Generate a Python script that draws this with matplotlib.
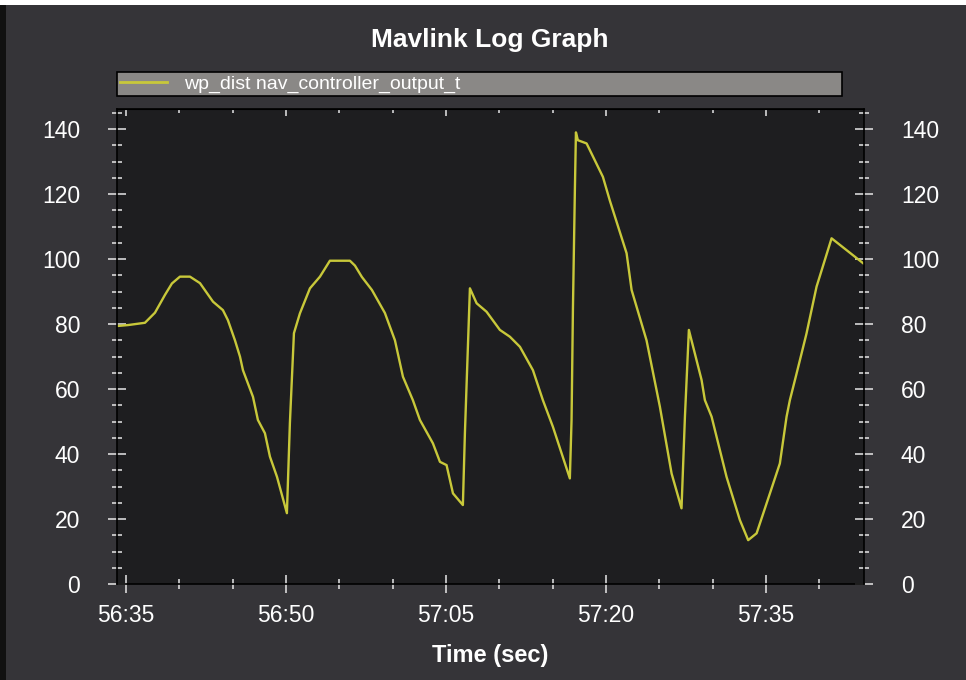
import matplotlib
matplotlib.use("Agg")
import matplotlib.pyplot as plt
from matplotlib.ticker import MultipleLocator, FixedLocator
from matplotlib.patches import Rectangle

# ---- data (seconds after 56:00) ----
time_s = [34.16, 35.2, 36.78, 37.72, 38.66, 39.31, 40.06, 41.00, 41.94, 43.16,
          44.09, 44.56, 45.22, 45.69, 45.97, 46.91, 47.37, 48.03, 48.50, 49.16,
          50.09, 50.37, 50.75, 51.31, 52.25, 53.19, 54.12, 56.00, 56.47, 57.12,
          58.06, 59.28, 60.22, 60.97, 61.90, 62.56, 63.78, 64.44, 65.06, 65.66,
          66.59, 66.78, 67.25, 67.88, 68.81, 70.06, 71.00, 71.94, 73.16, 74.09,
          75.03, 76.62, 76.78, 76.91, 77.09, 77.19, 77.37, 78.19, 79.72, 80.37,
          81.94, 82.41, 83.81, 85.06, 86.16, 87.09, 87.41, 87.78, 88.97, 89.28,
          89.91, 91.31, 92.56, 93.34, 94.13, 95.38, 96.31, 96.94, 97.25, 97.88,
          98.81, 99.75, 101.16, 104.13]
wp_dist = [79.4, 79.7, 80.4, 83.5, 89.0, 92.5, 94.6, 94.6, 92.6, 86.9,
           84.3, 81.2, 75.0, 70.0, 65.8, 57.6, 50.5, 46.4, 39.2, 33.0,
           21.8, 49.5, 77.2, 83.3, 91.0, 94.6, 99.5, 99.5, 98.0, 94.5,
           90.5, 83.4, 75.0, 63.8, 56.6, 50.5, 43.3, 37.6, 36.6, 27.9,
           24.3, 46.4, 91.0, 86.4, 83.8, 78.2, 76.1, 73.0, 65.8, 56.6,
           48.4, 32.5, 50.5, 85.0, 121.0, 139.0, 136.6, 135.6, 125.3, 118.0,
           101.8, 90.5, 75.0, 54.6, 34.0, 23.3, 51.5, 78.2, 62.8, 56.6,
           51.5, 33.0, 19.7, 13.5, 15.6, 27.9, 37.1, 51.5, 56.6, 64.8,
           77.1, 91.5, 106.4, 98.7]
x_ticks = [35, 50, 65, 80, 95]
x_tick_labels = ["56:35", "56:50", "57:05", "57:20", "57:35"]
y_ticks = [0, 20, 40, 60, 80, 100, 120, 140]
series_label = "wp_dist nav_controller_output_t"
title = "Mavlink Log Graph"
xlabel = "Time (sec)"

plt.rcParams['font.family'] = ['Liberation Sans', 'DejaVu Sans']

W, H = 966, 680
fig = plt.figure(figsize=(W / 100, H / 100), dpi=100)
fig.patch.set_facecolor('#353438')
# thin borders like the screenshot
fig.add_artist(Rectangle((0, 1 - 5 / H), 1, 5 / H, transform=fig.transFigure,
                         facecolor='white', edgecolor='none', zorder=0))
fig.add_artist(Rectangle((0, 0), 6 / W, 1 - 5 / H, transform=fig.transFigure,
                         facecolor='#111111', edgecolor='none', zorder=0))

ax = fig.add_axes([117 / W, 1 - 584 / H, (864 - 117) / W, (584 - 109) / H])
ax.set_facecolor('#1e1e20')
line, = ax.plot(time_s, wp_dist, color='#c8c83a', lw=1.7, label=series_label)
ax.set_xlim(34.16, 104.2)
ax.set_ylim(0, 146.2)

for s in ax.spines.values():
    s.set_color('black')
    s.set_linewidth(1.2)

ax.xaxis.set_major_locator(FixedLocator(x_ticks))
ax.set_xticklabels(x_tick_labels)
ax.xaxis.set_minor_locator(MultipleLocator(5))
ax.yaxis.set_major_locator(FixedLocator(y_ticks))
ax.yaxis.set_minor_locator(MultipleLocator(5))

ax.tick_params(axis='x', which='major', direction='inout', length=13, width=1.1,
               color='#e8e8e8', labelcolor='white', labelsize=16.5, pad=8,
               top=False, bottom=True)
ax.tick_params(axis='x', which='minor', direction='inout', length=7, width=1.1,
               color='#e8e8e8', top=False, bottom=True)
ax.tick_params(axis='y', which='major', direction='inout', length=13, width=1.1,
               color='#e8e8e8', labelcolor='white', labelsize=16.5, pad=20,
               left=True, right=True, labelleft=True, labelright=True)
ax.tick_params(axis='y', which='minor', direction='inout', length=7, width=1.1,
               color='#e8e8e8', left=True, right=True)

top = ax.secondary_xaxis('top')
top.xaxis.set_major_locator(FixedLocator(x_ticks))
top.xaxis.set_minor_locator(MultipleLocator(5))
top.tick_params(which='major', direction='in', length=5, width=1.1, color='#e8e8e8',
                labeltop=False)
top.tick_params(which='minor', direction='in', length=3, width=1.1, color='#e8e8e8')
top.spines['top'].set_color('black')

ax.set_xlabel(xlabel, color='white', fontsize=17, fontweight='bold', labelpad=12)

fig.text(490 / W, 1 - 40 / H, title, color='white', fontsize=19, fontweight='bold',
         ha='center', va='center')

leg = fig.legend(handles=[line], labels=[series_label],
                 bbox_to_anchor=(117 / W, 1 - 96 / H, (842 - 117) / W, 24 / H),
                 loc='center left', mode='expand', borderaxespad=0, borderpad=0.15,
                 fontsize=14, handlelength=2.4, handletextpad=0.9,
                 fancybox=False, framealpha=1, facecolor='#8a8886', edgecolor='black',
                 labelcolor='white')
leg.get_frame().set_linewidth(1.2)
leg.get_lines()[0].set_linewidth(2)

fig.savefig('out.png', dpi=100, facecolor=fig.get_facecolor())
